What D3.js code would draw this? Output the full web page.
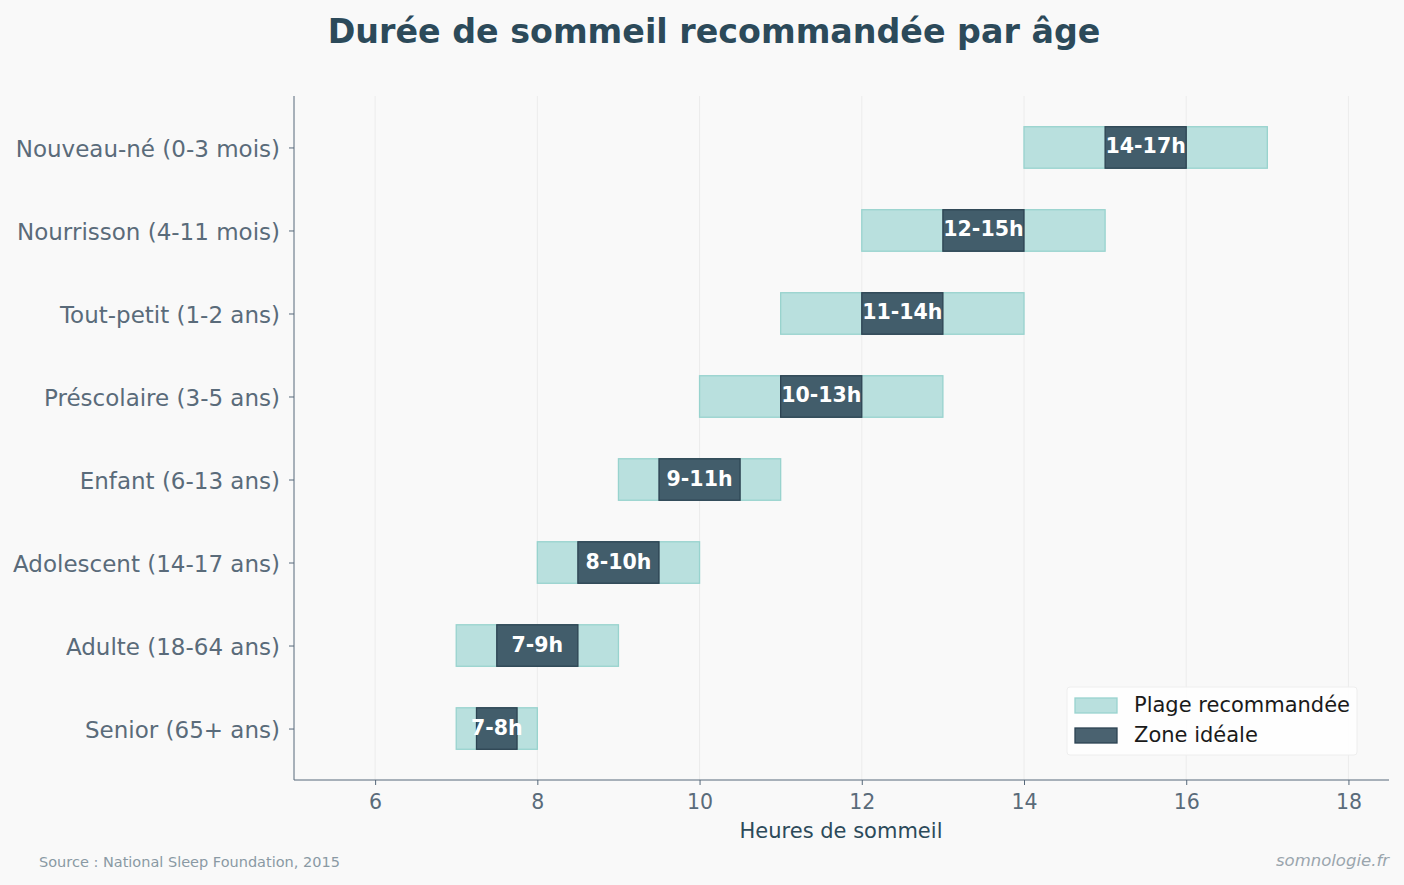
<!DOCTYPE html>
<html lang="fr">
<head>
<meta charset="UTF-8">
<title>Durée de sommeil recommandée par âge</title>
<script src="https://cdn.jsdelivr.net/npm/d3@7"></script>
<style>
  body { margin: 0; background: #f9f9f9; }
  text { font-family: "DejaVu Sans", sans-serif; }
  .axis path, .axis line { stroke: #56687a; }
  .axis text { fill: #5a6b7a; }
  .grid line { stroke: #ececec; }
</style>
</head>
<body>
<div id="container"></div>
<script>
// données
const groups = ["Nouveau-né (0-3 mois)", "Nourrisson (4-11 mois)", "Tout-petit (1-2 ans)",
  "Préscolaire (3-5 ans)", "Enfant (6-13 ans)", "Adolescent (14-17 ans)",
  "Adulte (18-64 ans)", "Senior (65+ ans)"];
const rangeMin = [14, 12, 11, 10, 9, 8, 7, 7];
const rangeMax = [17, 15, 14, 13, 11, 10, 9, 8];
const idealMin = [15, 13, 12, 11, 9.5, 8.5, 7.5, 7.25];
const idealMax = [16, 14, 13, 12, 10.5, 9.5, 8.5, 7.75];
const labels = ["14-17h", "12-15h", "11-14h", "10-13h", "9-11h", "8-10h", "7-9h", "7-8h"];
const xTicks = [6, 8, 10, 12, 14, 16, 18];

const width = 1404, height = 885;
const m = { left: 294, right: 1389, top: 96, bottom: 780 };

const svg = d3.select("#container").append("svg")
  .attr("width", width).attr("height", height);

svg.append("rect").attr("width", width).attr("height", height).attr("fill", "#f9f9f9");

const x = d3.scaleLinear().domain([5, 18.5]).range([m.left, m.right]);
const y = d3.scaleLinear().domain([-0.62, groups.length - 1 + 0.62]).range([m.top, m.bottom]);
const barH = y(0.25) - y(-0.25);

// grille
svg.append("g").attr("class", "grid")
  .selectAll("line").data(xTicks).enter().append("line")
  .attr("x1", d => x(d)).attr("x2", d => x(d))
  .attr("y1", m.top).attr("y2", m.bottom);

// plage recommandée
svg.append("g").selectAll("rect").data(groups).enter().append("rect")
  .attr("x", (d, i) => x(rangeMin[i]))
  .attr("width", (d, i) => x(rangeMax[i]) - x(rangeMin[i]))
  .attr("y", (d, i) => y(i) - barH / 2)
  .attr("height", barH)
  .attr("fill", "#b9e0de")
  .attr("stroke", "#98d3ce")
  .attr("stroke-width", 1.3);

// zone idéale
svg.append("g").selectAll("rect").data(groups).enter().append("rect")
  .attr("x", (d, i) => x(idealMin[i]))
  .attr("width", (d, i) => x(idealMax[i]) - x(idealMin[i]))
  .attr("y", (d, i) => y(i) - barH / 2)
  .attr("height", barH)
  .attr("fill", "#425d6b")
  .attr("stroke", "#2c4352")
  .attr("stroke-width", 1.3);

// étiquettes
svg.append("g").selectAll("text").data(groups).enter().append("text")
  .attr("x", (d, i) => x((idealMin[i] + idealMax[i]) / 2))
  .attr("y", (d, i) => y(i))
  .attr("text-anchor", "middle")
  .attr("dominant-baseline", "middle")
  .attr("fill", "#ffffff")
  .attr("font-weight", "bold")
  .attr("font-size", 20.5)
  .text((d, i) => labels[i]);

// axes
const xAxis = d3.axisBottom(x).tickValues(xTicks).tickSizeOuter(0).tickSize(5).tickPadding(9);
const gx = svg.append("g").attr("class", "axis")
  .attr("transform", "translate(0," + m.bottom + ")").call(xAxis);
gx.selectAll("text").attr("font-size", 20.5);

const yAxis = d3.axisLeft(y).tickValues(d3.range(groups.length))
  .tickFormat(i => groups[i]).tickSizeOuter(0).tickSize(5).tickPadding(9);
const gy = svg.append("g").attr("class", "axis")
  .attr("transform", "translate(" + m.left + ",0)").call(yAxis);
gy.selectAll("text").attr("font-size", 23).attr("dy", "0.4em");
gy.select(".domain").attr("d", "M0," + m.top + "V" + m.bottom);
gx.select(".domain").attr("d", "M" + m.left + ",0H" + m.right);

// titres
svg.append("text").attr("x", 714).attr("y", 43).attr("text-anchor", "middle")
  .attr("font-size", 33.3).attr("font-weight", "bold").attr("fill", "#2c4a5a")
  .text("Durée de sommeil recommandée par âge");

svg.append("text").attr("x", 841).attr("y", 838).attr("text-anchor", "middle")
  .attr("font-size", 21).attr("fill", "#2c4a5a").text("Heures de sommeil");

svg.append("text").attr("x", 39).attr("y", 867)
  .attr("font-size", 14.5).attr("fill", "#8a99a4")
  .text("Source : National Sleep Foundation, 2015");

svg.append("text").attr("x", 1389).attr("y", 866).attr("text-anchor", "end")
  .attr("font-size", 16.5).attr("font-style", "italic").attr("fill", "#9aa5ad")
  .text("somnologie.fr");

// légende
const leg = svg.append("g").attr("transform", "translate(1067,687)");
leg.append("rect").attr("width", 290).attr("height", 68).attr("rx", 3)
  .attr("fill", "#ffffff").attr("fill-opacity", 0.85).attr("stroke", "#eeeeee");
const legItems = [
  { name: "Plage recommandée", fill: "#b9e0de", stroke: "#98d3ce" },
  { name: "Zone idéale", fill: "#4a6270", stroke: "#2c4352" }
];
legItems.forEach((d, i) => {
  leg.append("rect").attr("x", 8).attr("y", 11 + i * 30).attr("width", 42).attr("height", 15)
    .attr("fill", d.fill).attr("stroke", d.stroke).attr("stroke-width", 1.3);
  leg.append("text").attr("x", 67).attr("y", 19 + i * 30).attr("dominant-baseline", "middle")
    .attr("font-size", 21).attr("fill", "#1a1a1a").text(d.name);
});
</script>
</body>
</html>
